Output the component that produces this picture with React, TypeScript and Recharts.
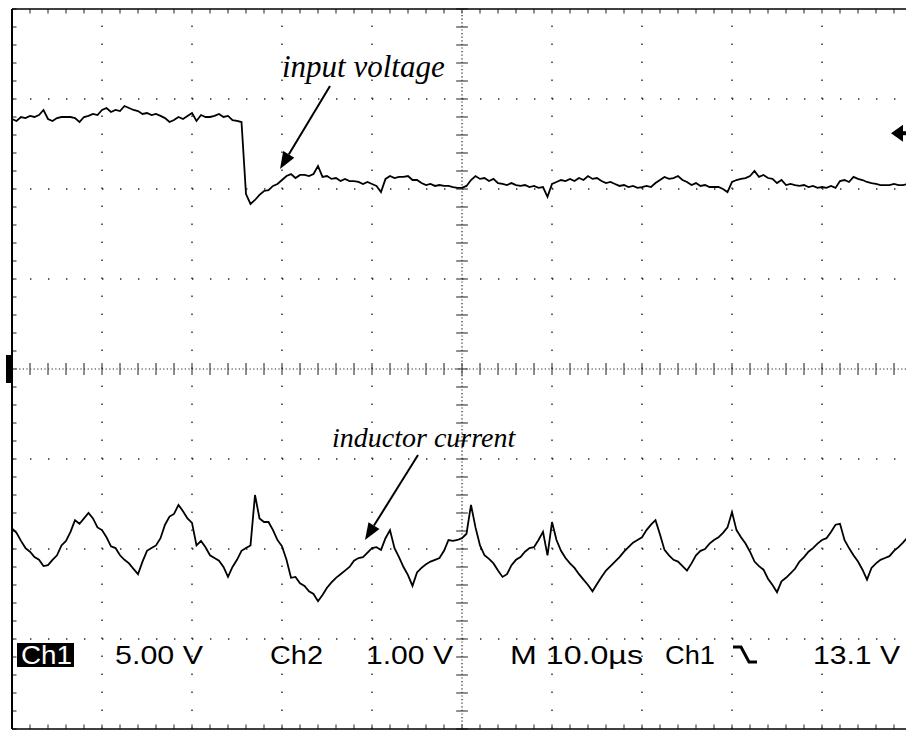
import { LineChart, Line, XAxis, YAxis, ReferenceLine, ReferenceDot } from "recharts";

// Ch1 (5 V/div), input voltage, sampled every 0.5 us
const ch1Volts = [
  13.89, 13.78, 14.0, 13.94, 14.06, 14.0, 14.11, 14.39, 13.89, 13.78,
  13.94, 14.0, 14.0, 14.0, 13.94, 13.72, 14.0, 14.06, 14.17, 14.11,
  14.39, 14.5, 14.28, 14.39, 14.33, 14.61, 14.5, 14.39, 14.33, 14.17,
  14.22, 14.11, 14.17, 14.06, 13.94, 13.72, 13.83, 14.0, 13.89, 14.06,
  14.22, 13.78, 14.11, 14.0, 14.0, 14.06, 14.17, 14.0, 14.06, 13.83,
  13.78, 13.72, 9.72, 9.17, 9.39, 9.67, 9.89, 9.94, 10.17, 10.28,
  10.5, 10.72, 10.83, 10.61, 10.78, 10.78, 10.72, 10.83, 11.28, 10.67,
  10.72, 10.56, 10.61, 10.44, 10.56, 10.44, 10.44, 10.39, 10.28, 10.39,
  10.28, 10.17, 9.83, 10.56, 10.72, 10.61, 10.67, 10.67, 10.72, 10.5,
  10.5, 10.33, 10.22, 10.28, 10.17, 10.22, 10.17, 10.17, 10.11, 10.06,
  10.06, 10.17, 10.5, 10.72, 10.56, 10.61, 10.44, 10.56, 10.33, 10.28,
  10.22, 10.33, 10.22, 10.17, 10.22, 10.11, 10.17, 10.06, 10.11, 9.56,
  10.28, 10.39, 10.5, 10.44, 10.56, 10.44, 10.61, 10.5, 10.72, 10.56,
  10.61, 10.44, 10.33, 10.39, 10.28, 10.17, 10.22, 10.11, 10.17, 10.06,
  10.11, 10.17, 10.11, 10.33, 10.5, 10.67, 10.56, 10.61, 10.72, 10.5,
  10.39, 10.22, 10.33, 10.17, 10.22, 10.11, 10.11, 10.11, 10.0, 9.83,
  10.39, 10.5, 10.56, 10.61, 10.72, 11.0, 10.67, 10.78, 10.61, 10.56,
  10.33, 10.5, 10.22, 10.28, 10.22, 10.17, 10.22, 10.11, 10.17, 10.06,
  10.11, 10.06, 10.17, 10.06, 10.44, 10.5, 10.39, 10.67, 10.56, 10.5,
  10.39, 10.33, 10.28, 10.22, 10.22, 10.22, 10.28, 10.22, 10.22, 10.28,
];

// Ch2 (1 V/div), inductor current probe, same sample clock
const ch2Volts = [
  -1.77, -1.82, -1.91, -1.99, -2.03, -2.09, -2.12, -2.19, -2.18, -2.12,
  -2.07, -1.96, -1.91, -1.81, -1.68, -1.72, -1.66, -1.6, -1.66, -1.76,
  -1.79, -1.87, -1.97, -1.99, -2.07, -2.12, -2.16, -2.22, -2.28, -2.14,
  -2.02, -1.99, -1.96, -1.88, -1.73, -1.64, -1.61, -1.51, -1.58, -1.66,
  -1.71, -1.96, -1.91, -1.98, -2.07, -2.1, -2.13, -2.2, -2.31, -2.2,
  -2.12, -2.02, -1.99, -1.96, -1.4, -1.66, -1.7, -1.7, -1.79, -1.9,
  -1.97, -2.12, -2.32, -2.31, -2.38, -2.41, -2.47, -2.5, -2.58, -2.51,
  -2.43, -2.37, -2.32, -2.28, -2.24, -2.2, -2.13, -2.1, -2.09, -2.04,
  -1.99, -1.98, -2.01, -1.88, -1.79, -1.99, -2.09, -2.2, -2.29, -2.41,
  -2.26, -2.21, -2.17, -2.14, -2.12, -2.1, -2.02, -1.9, -1.91, -1.9,
  -1.88, -1.83, -1.51, -1.76, -1.96, -2.07, -2.11, -2.16, -2.24, -2.31,
  -2.28, -2.18, -2.12, -2.09, -2.03, -1.99, -1.98, -1.9, -1.81, -2.07,
  -1.7, -1.9, -2.02, -2.1, -2.16, -2.21, -2.28, -2.34, -2.4, -2.47,
  -2.39, -2.31, -2.24, -2.19, -2.14, -2.09, -2.03, -1.98, -1.93, -1.9,
  -1.87, -1.79, -1.73, -1.68, -1.84, -2.01, -2.07, -2.12, -2.14, -2.19,
  -2.24, -2.16, -2.07, -2.02, -2.0, -1.94, -1.9, -1.87, -1.82, -1.76,
  -1.59, -1.79, -1.87, -1.94, -2.03, -2.14, -2.19, -2.23, -2.33, -2.4,
  -2.48, -2.36, -2.32, -2.27, -2.22, -2.14, -2.09, -2.03, -1.99, -1.94,
  -1.9, -1.88, -1.81, -1.73, -1.72, -1.9, -1.99, -2.07, -2.14, -2.23,
  -2.34, -2.21, -2.16, -2.12, -2.1, -2.08, -2.02, -1.98, -1.93, -1.87,
];

const SAMPLE_US = 0.5;
const TRIGGER_LEVEL = 13.1;

const timeDivs = [10, 20, 30, 40, 60, 70, 80, 90];
const voltDivs = [-15, -10, -5, 5, 10, 15];
const minorT = Array.from({ length: 51 }, (_, i) => i * 2);
const minorV = Array.from({ length: 41 }, (_, i) => i - 20);

const rows = ch1Volts.map((v, i) => ({ t: i * SAMPLE_US, ch1: v, ch2: ch2Volts[i] }));

const DOT = "#222";
const TICK = "#444";

function Arrow({ x1, y1, x2, y2 }: { x1: number; y1: number; x2: number; y2: number }) {
  const len = Math.hypot(x2 - x1, y2 - y1);
  const ux = (x2 - x1) / len;
  const uy = (y2 - y1) / len;
  const bx = x2 - ux * 17;
  const by = y2 - uy * 17;
  const px = -uy * 6.5;
  const py = ux * 6.5;
  return (
    <g>
      <line x1={x1} y1={y1} x2={bx} y2={by} stroke="#000" strokeWidth={2} />
      <polygon points={`${x2},${y2} ${bx + px},${by + py} ${bx - px},${by - py}`} fill="#000" />
    </g>
  );
}

const GroundMarker = (p: any) => <rect x={p.cx - 6} y={p.cy - 14} width={6} height={28} fill="#000" />;

const TriggerMarker = (p: any) => (
  <g>
    <polygon points={`${p.cx - 21},${p.cy} ${p.cx - 9},${p.cy - 8.5} ${p.cx - 9},${p.cy + 8.5}`} fill="#000" />
    <rect x={p.cx - 10} y={p.cy - 2} width={10} height={4} fill="#000" />
  </g>
);

export default function App() {
  const sans = '"Liberation Sans", Arial, sans-serif';
  const serif = '"Liberation Serif", "Times New Roman", serif';
  return (
    <div style={{ position: "relative", width: 906, height: 730, overflow: "hidden", background: "#fff" }}>
      <style>{"html,body{margin:0;padding:0;overflow:hidden;background:#fff}"}</style>
      <LineChart width={920} height={740} data={rows} margin={{ top: 9, right: 8, bottom: 11, left: 12 }}>
        <XAxis dataKey="t" type="number" domain={[0, 100]} hide />
        <YAxis yAxisId="ch1" domain={[-20, 20]} hide />
        <YAxis yAxisId="ch2" domain={[-4, 4]} hide />

        {timeDivs.map((t) => (
          <ReferenceLine key={"gx" + t} x={t} yAxisId="ch1" stroke={DOT} strokeWidth={1.4} strokeDasharray="1.4 16.6" />
        ))}
        {voltDivs.map((v) => (
          <ReferenceLine key={"gy" + v} y={v} yAxisId="ch1" stroke={DOT} strokeWidth={1.4} strokeDasharray="1.4 16.6" />
        ))}
        <ReferenceLine x={50} yAxisId="ch1" stroke={DOT} strokeWidth={1.2} strokeDasharray="1.2 2.4" />
        <ReferenceLine y={0} yAxisId="ch1" stroke={DOT} strokeWidth={1.2} strokeDasharray="1.2 2.4" />

        {minorT.map((t) => (
          <ReferenceLine key={"ch" + t} yAxisId="ch1" segment={[{ x: t, y: -0.33 }, { x: t, y: 0.33 }]} stroke={TICK} strokeWidth={1.2} />
        ))}
        {minorV.map((v) => (
          <ReferenceLine key={"cv" + v} yAxisId="ch1" segment={[{ x: 49.35, y: v }, { x: 50.65, y: v }]} stroke={TICK} strokeWidth={1.2} />
        ))}
        {minorT.map((t) => (
          <ReferenceLine key={"tt" + t} yAxisId="ch1" segment={[{ x: t, y: 20 }, { x: t, y: 19.75 }]} stroke={TICK} strokeWidth={1.2} />
        ))}
        {minorT.map((t) => (
          <ReferenceLine key={"bt" + t} yAxisId="ch1" segment={[{ x: t, y: -20 }, { x: t, y: -19.75 }]} stroke={TICK} strokeWidth={1.2} />
        ))}
        {minorV.map((v) => (
          <ReferenceLine key={"lt" + v} yAxisId="ch1" segment={[{ x: 0, y: v }, { x: 0.5, y: v }]} stroke={TICK} strokeWidth={1.2} />
        ))}

        <ReferenceLine x={0} yAxisId="ch1" stroke="#000" strokeWidth={2} />
        <ReferenceLine y={20} yAxisId="ch1" stroke="#000" strokeWidth={1.5} />
        <ReferenceLine y={-20} yAxisId="ch1" stroke="#000" strokeWidth={1.5} />

        <Line yAxisId="ch1" dataKey="ch1" type="linear" stroke="#000" strokeWidth={1.8} dot={false} isAnimationActive={false} />
        <Line yAxisId="ch2" dataKey="ch2" type="linear" stroke="#000" strokeWidth={1.8} dot={false} isAnimationActive={false} />

        <ReferenceDot x={0} y={0} yAxisId="ch1" shape={GroundMarker} ifOverflow="visible" />
        <ReferenceDot x={100} y={TRIGGER_LEVEL} yAxisId="ch1" shape={TriggerMarker} ifOverflow="visible" />
      </LineChart>

      <svg width={906} height={730} style={{ position: "absolute", left: 0, top: 0, pointerEvents: "none" }}>
        <g fontFamily={sans} fontSize={26} fill="#000">
          <rect x={17} y={643} width={57} height={24} fill="#000" />
          <text x={21} y={664} fill="#fff" textLength={51} lengthAdjust="spacingAndGlyphs">Ch1</text>
          <text x={115} y={664} textLength={88} lengthAdjust="spacingAndGlyphs">5.00 V</text>
          <text x={270} y={664} textLength={53} lengthAdjust="spacingAndGlyphs">Ch2</text>
          <text x={366} y={664} textLength={87} lengthAdjust="spacingAndGlyphs">1.00 V</text>
          <text x={510} y={664} textLength={133} lengthAdjust="spacingAndGlyphs">M 10.0µs</text>
          <text x={665} y={664} textLength={50} lengthAdjust="spacingAndGlyphs">Ch1</text>
          <text x={813} y={664} textLength={87} lengthAdjust="spacingAndGlyphs">13.1 V</text>
        </g>
        <path d="M733 647 H741 L749 662 H757" stroke="#000" strokeWidth={3} fill="none" />

        <g fontFamily={serif} fontStyle="italic" fill="#000">
          <text x={282} y={77} fontSize={31}>input voltage</text>
          <text x={332} y={447} fontSize={28}>inductor current</text>
        </g>
        <Arrow x1={330} y1={86} x2={280} y2={169} />
        <Arrow x1={418} y1={455} x2={365} y2={540} />
      </svg>
    </div>
  );
}
